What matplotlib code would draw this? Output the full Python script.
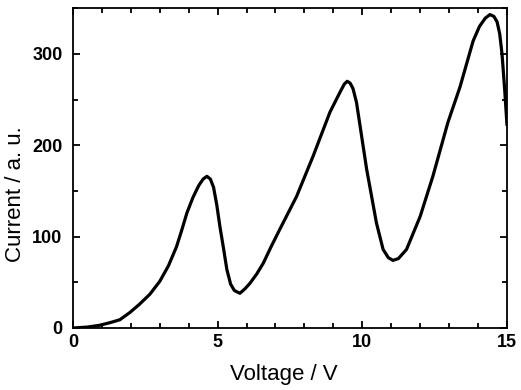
import matplotlib
matplotlib.use("Agg")
import matplotlib.pyplot as plt
from matplotlib.ticker import MultipleLocator

# Franck-Hertz style curve
voltage = [0, 0.5, 0.93, 1.3, 1.62, 1.97, 2.3, 2.66, 3.0, 3.3, 3.58, 3.76,
           3.94, 4.15, 4.35, 4.5, 4.63, 4.75, 4.86, 4.97, 5.08, 5.2, 5.32,
           5.45, 5.58, 5.77, 5.95, 6.12, 6.35, 6.58, 6.85, 7.15, 7.73, 8.30,
           8.88, 9.23, 9.38, 9.48, 9.58, 9.68, 9.80, 10.15, 10.49, 10.72,
           10.9, 11.06, 11.25, 11.53, 12.0, 12.44, 12.96, 13.38, 13.83,
           14.05, 14.25, 14.41, 14.55, 14.66, 14.75, 14.83, 14.92, 15.0]
current = [0, 1, 3, 6, 9, 17, 26, 37, 51, 68, 89, 107, 126, 143, 156, 163,
           166, 163, 154, 135, 111, 88, 64, 48, 41, 38, 43, 49, 59, 71, 89,
           108, 144, 188, 236, 258, 267, 270, 268, 262, 247, 174, 115, 86,
           77, 74, 76, 86, 122, 166, 225, 264, 314, 330, 339, 343, 341, 335,
           322, 300, 262, 223]

plt.rcParams["font.family"] = ["Liberation Sans", "DejaVu Sans"]

fig = plt.figure(figsize=(5.21, 3.90), dpi=100, facecolor="white")
ax = fig.add_axes([0.140, 0.159, 0.833, 0.820])

ax.plot(voltage, current, color="black", linewidth=2.3, solid_joinstyle="round")

ax.set_xlim(0, 15)
ax.set_ylim(0, 350)
ax.xaxis.set_major_locator(MultipleLocator(5))
ax.xaxis.set_minor_locator(MultipleLocator(1))
ax.yaxis.set_major_locator(MultipleLocator(100))
ax.yaxis.set_minor_locator(MultipleLocator(50))
ax.tick_params(which="both", direction="in", top=True, right=True, width=1.3,
               labelsize=13)
ax.tick_params(axis="x", pad=4)
ax.tick_params(axis="y", pad=7.5)
ax.tick_params(which="major", length=5)
ax.tick_params(which="minor", length=3.5)
for label in ax.get_xticklabels() + ax.get_yticklabels():
    label.set_fontweight("bold")
for s in ax.spines.values():
    s.set_linewidth(1.3)

ax.set_xlabel("Voltage / V", fontsize=16)
ax.xaxis.set_label_coords(0.486, -0.112)
ax.set_ylabel("Current / a. u.", fontsize=16)
ax.yaxis.set_label_coords(-0.108, 0.42)

fig.savefig("out.png", dpi=100, facecolor="white")
